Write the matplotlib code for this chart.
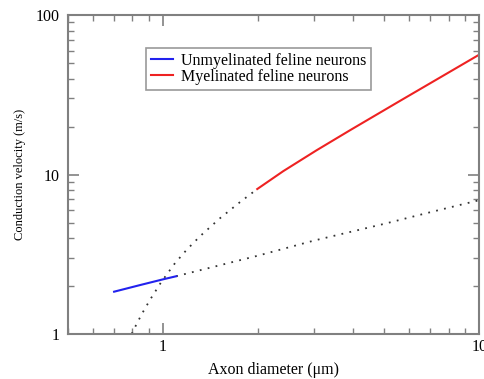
import matplotlib
matplotlib.use("Agg")
import matplotlib.pyplot as plt
from matplotlib.ticker import LogLocator, NullFormatter, FixedLocator, FixedFormatter

plt.rcParams['font.family'] = ['Liberation Serif', 'DejaVu Serif']

# unmyelinated: measured part and extrapolation
unmy_d = [0.7, 0.85, 1.0, 1.1]
unmy_v = [1.84, 2.03, 2.2, 2.3]
unmy_ext_d = [1.1, 2.0, 3.0, 5.0, 7.0, 10.0]
unmy_ext_v = [2.3, 3.1, 3.85, 4.9, 5.8, 6.9]

# myelinated: measured part and extrapolation
my_d = [1.986, 2.4, 3.06, 3.91, 5.62, 7.5, 10.0]
my_v = [8.11, 10.5, 14.2, 19.0, 29.0, 40.5, 56.5]
my_ext_d = [0.796, 0.805, 0.856, 0.910, 0.986, 1.091, 1.189, 1.309, 1.514, 1.754, 1.986]
my_ext_v = [1.0, 1.05, 1.33, 1.64, 2.11, 2.78, 3.38, 4.10, 5.32, 6.73, 8.11]

fig = plt.figure(figsize=(4.85, 3.79), dpi=100)
ax = fig.add_axes([0.140, 0.119, 0.848, 0.841])

dots = (0, (1, 3.5))
ax.plot(unmy_ext_d, unmy_ext_v, color='#333333', lw=1.3, linestyle=dots)
ax.plot(my_ext_d, my_ext_v, color='#333333', lw=1.3, linestyle=dots)
ax.plot(unmy_d, unmy_v, color='#2222ee', lw=1.5, label='Unmyelinated feline neurons')
ax.plot(my_d, my_v, color='#ee2222', lw=1.5, label='Myelinated feline neurons')

ax.set_xscale('log')
ax.set_yscale('log')
ax.set_xlim(0.5, 10)
ax.set_ylim(1, 100)

ax.xaxis.set_major_locator(FixedLocator([1, 10]))
ax.xaxis.set_major_formatter(FixedFormatter(['1', '10']))
ax.xaxis.set_minor_locator(LogLocator(base=10, subs=range(2, 10)))
ax.xaxis.set_minor_formatter(NullFormatter())
ax.yaxis.set_major_locator(FixedLocator([1, 10, 100]))
ax.yaxis.set_major_formatter(FixedFormatter(['1', '10', '100']))
ax.yaxis.set_minor_locator(LogLocator(base=10, subs=range(2, 10)))
ax.yaxis.set_minor_formatter(NullFormatter())

ax.tick_params(which='both', direction='in', top=True, right=True,
               color='#808080', labelsize=11.5)
ax.tick_params(axis='x', pad=4)
ax.tick_params(axis='y', pad=6)
ax.tick_params(which='major', length=8, width=1.2)
ax.tick_params(which='minor', length=4, width=1.0)
for s in ax.spines.values():
    s.set_color('#808080')
    s.set_linewidth(1.5)

ax.set_xlabel('Axon diameter (μm)', fontsize=11.5, labelpad=5)
ax.set_ylabel('Conduction velocity (m/s)', fontsize=9, labelpad=7)

leg = ax.legend(loc='upper left', bbox_to_anchor=(0.19, 0.897), fontsize=11.5,
                frameon=True, fancybox=False, borderaxespad=0, handlelength=1.4,
                handletextpad=0.5, labelspacing=0.0, borderpad=0.3)
leg.get_frame().set_edgecolor('#808080')
leg.get_frame().set_linewidth(1.2)

fig.savefig('out.png', dpi=100)
